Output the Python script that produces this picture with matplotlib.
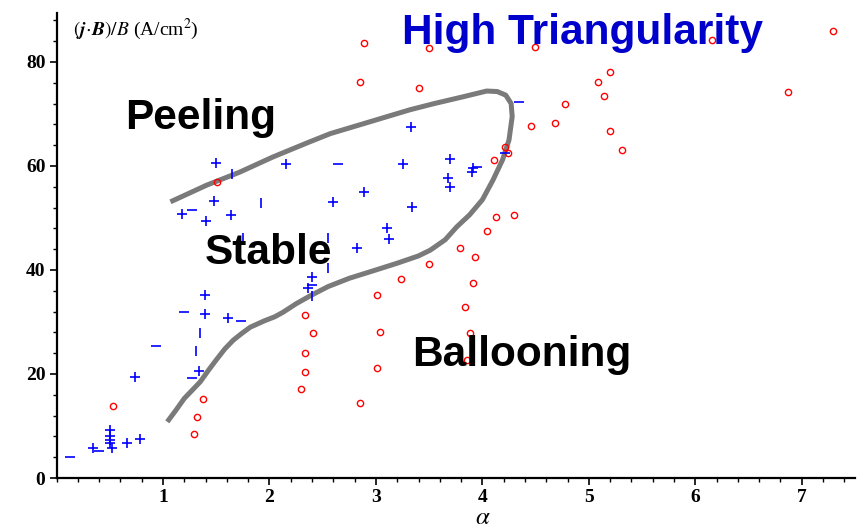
import numpy as np
import matplotlib
matplotlib.use("Agg")
import matplotlib.pyplot as plt
from matplotlib.ticker import MultipleLocator

# stability boundary (alpha, j.B/B)
curve_x = [1.04, 1.12, 1.20, 1.28, 1.35, 1.43, 1.50, 1.58, 1.66, 1.74, 1.82, 1.95, 2.05,
           2.13, 2.25, 2.38, 2.55, 2.75, 3.00, 3.20, 3.40, 3.51, 3.65, 3.76, 3.88, 4.00,
           4.10, 4.19, 4.25, 4.28, 4.27, 4.22, 4.14, 4.04, 3.82, 3.55, 3.32, 2.88, 2.57,
           2.35, 2.03, 1.72, 1.41, 1.07]
curve_y = [10.8, 13.0, 15.3, 17.0, 18.5, 20.8, 22.7, 24.8, 26.5, 27.8, 29.0, 30.2, 31.0,
           31.9, 33.5, 35.0, 36.8, 38.4, 40.0, 41.3, 42.7, 43.8, 45.8, 48.3, 50.6, 53.5,
           57.3, 61.2, 65.0, 69.5, 72.0, 73.6, 74.3, 74.4, 73.3, 72.0, 70.8, 68.1, 66.2,
           64.4, 61.7, 58.8, 56.3, 53.1]

# stable cases (blue), drawn as +, - and | as in the original raster
plus_x = [0.34, 0.50, 0.50, 0.50, 0.50, 0.52, 0.66, 0.78, 0.74, 1.34, 1.39, 1.39, 1.61,
          1.18, 1.40, 1.48, 1.50, 1.64, 2.16, 2.60, 2.36, 2.40, 2.89, 2.82, 3.10, 3.12,
          3.25, 3.33, 3.34, 3.70, 3.68, 3.70, 3.91, 3.90]
plus_y = [5.8, 9.2, 8.0, 7.3, 6.7, 5.8, 6.7, 7.5, 19.4, 20.5, 31.5, 35.2, 30.7,
          50.8, 49.4, 53.3, 60.6, 50.6, 60.4, 53.1, 36.5, 38.7, 55.0, 44.2, 48.1, 46.0,
          60.4, 67.5, 52.1, 61.3, 57.7, 56.0, 59.6, 58.9]
dash_x = [0.13, 0.40, 0.93, 1.20, 1.27, 1.73, 1.27, 2.64, 3.95, 4.21, 4.34, 2.40]
dash_y = [4.0, 5.2, 25.4, 31.9, 19.2, 30.2, 51.5, 60.4, 59.8, 62.5, 72.3, 37.2]
bar_x = [1.35, 1.31, 1.65, 1.92, 1.75, 2.55, 2.55, 2.40]
bar_y = [27.9, 24.5, 58.5, 52.9, 46.2, 46.2, 40.4, 35.0]

# unstable cases (red circles)
red_x = [0.53, 1.38, 1.32, 1.29, 1.51, 2.33, 2.41, 2.33, 2.33, 2.30, 2.85, 3.01, 3.04,
         3.01, 3.24, 3.50, 3.79, 3.93, 3.91, 3.84, 3.88, 3.86, 4.04, 4.13, 4.30, 4.11,
         4.21, 4.24, 4.46, 4.68, 4.78, 5.09, 5.20, 5.14, 5.20, 5.31, 2.89, 3.50, 4.49,
         2.85, 3.40, 6.16, 7.29, 6.87]
red_y = [13.8, 15.2, 11.7, 8.4, 57.0, 31.3, 27.9, 24.0, 20.4, 17.1, 14.4, 21.1, 28.1,
         35.2, 38.3, 41.2, 44.2, 42.5, 37.5, 32.9, 27.9, 22.7, 47.5, 50.1, 50.6, 61.2,
         63.7, 62.5, 67.7, 68.3, 71.9, 76.1, 78.0, 73.5, 66.7, 63.1, 83.6, 82.6, 82.9,
         76.1, 74.9, 84.2, 86.0, 74.3]

fig = plt.figure(figsize=(8.58, 5.31), dpi=100)
ax = fig.add_axes([0.0659, 0.0998, 0.9306, 0.8757])

ax.plot(curve_x, curve_y, color='#7a7a7a', lw=3.6, solid_capstyle='butt',
        solid_joinstyle='round', zorder=2)

ax.plot(red_x, red_y, 'o', ls='none', ms=4.5, mfc='none', mec='#ff0000', mew=1.0, zorder=3)
ax.plot(plus_x, plus_y, '+', ls='none', ms=6.5, color='#0000ff', mew=1.2, zorder=3)
ax.plot(dash_x, dash_y, '_', ls='none', ms=6.5, color='#0000ff', mew=1.2, zorder=3)
ax.plot(bar_x, bar_y, '|', ls='none', ms=6.5, color='#0000ff', mew=1.2, zorder=3)

ax.set_xlim(0, 7.5)
ax.set_ylim(0, 89.4)
ax.xaxis.set_major_locator(MultipleLocator(1))
ax.xaxis.set_minor_locator(MultipleLocator(0.2))
ax.yaxis.set_major_locator(MultipleLocator(20))
ax.yaxis.set_minor_locator(MultipleLocator(4))
ax.set_xticks([1, 2, 3, 4, 5, 6, 7])

for s in ['top', 'right']:
    ax.spines[s].set_visible(False)
for s in ['left', 'bottom']:
    ax.spines[s].set_linewidth(1.6)

ax.tick_params(which='major', length=5, width=1.2, direction='out', pad=3)
ax.tick_params(which='minor', length=3, width=1.0, direction='out')
for lab in ax.get_xticklabels() + ax.get_yticklabels():
    lab.set_fontfamily('Liberation Serif')
    lab.set_fontweight('bold')
    lab.set_fontsize(14)

plt.rcParams['mathtext.fontset'] = 'stix'
ax.text(0.15, 86.2, r'$(\boldsymbol{j}\!\cdot\!\boldsymbol{B})/B$ (A/cm$^2$)',
        fontsize=14, family='Liberation Serif', ha='left', va='center')
fig.text(483 / 858, 2 / 531, r'$\alpha$', fontsize=18, ha='center', va='bottom')

big = dict(fontsize=30.5, fontweight='bold', family='Liberation Sans', ha='center', va='center')
ax.text(1.35, 69.2, 'Peeling', **big)
ax.text(1.99, 43.2, 'Stable', **big)
ax.text(4.37, 23.6, 'Ballooning', **big)
ax.text(4.94, 85.6, 'High Triangularity', color='#0000cc', **big)

fig.savefig('out.png', dpi=100)
